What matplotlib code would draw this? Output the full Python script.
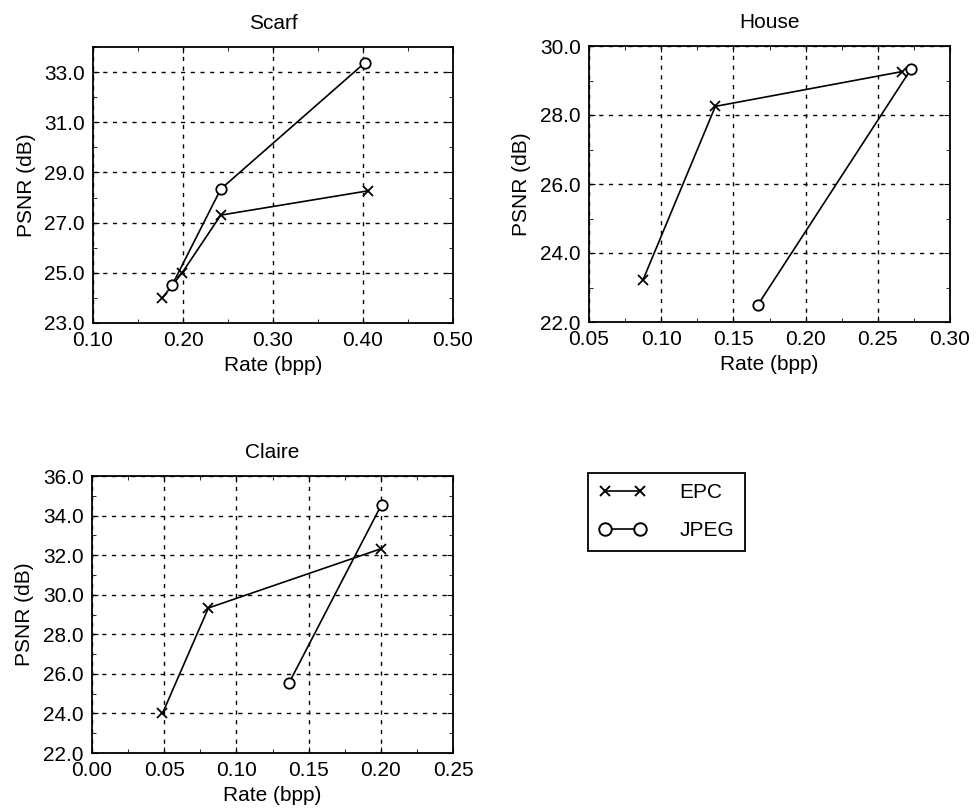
import matplotlib.pyplot as plt
from matplotlib.ticker import MultipleLocator, FormatStrFormatter
from matplotlib.lines import Line2D

plt.rcParams['font.family'] = ['Liberation Sans', 'DejaVu Sans']
plt.rcParams['font.size'] = 15

# Scarf
scarf_epc_rate = [0.177, 0.199, 0.242, 0.406]
scarf_epc_psnr = [24.0, 25.0, 27.3, 28.27]
scarf_jpeg_rate = [0.188, 0.242, 0.402]
scarf_jpeg_psnr = [24.52, 28.34, 33.37]

# House
house_epc_rate = [0.0875, 0.1375, 0.267]
house_epc_psnr = [23.23, 28.25, 29.26]
house_jpeg_rate = [0.167, 0.273]
house_jpeg_psnr = [22.5, 29.33]

# Claire
claire_epc_rate = [0.0488, 0.0806, 0.200]
claire_epc_psnr = [24.0, 29.33, 32.32]
claire_jpeg_rate = [0.1366, 0.2005]
claire_jpeg_psnr = [25.56, 34.55]

W, H = 977, 811
fig = plt.figure(figsize=(W / 100, H / 100), dpi=100)


def make_axes(left, top, right, bottom):
    return fig.add_axes([left / W, 1 - bottom / H, (right - left) / W, (bottom - top) / H])


def style(ax, title, xlim, xstep, ylim, ystep):
    ax.set_xlim(*xlim)
    ax.set_ylim(*ylim)
    ax.xaxis.set_major_locator(MultipleLocator(xstep))
    ax.yaxis.set_major_locator(MultipleLocator(ystep))
    ax.xaxis.set_minor_locator(MultipleLocator(xstep / 2))
    ax.yaxis.set_minor_locator(MultipleLocator(ystep / 2))
    ax.xaxis.set_major_formatter(FormatStrFormatter('%.2f'))
    ax.yaxis.set_major_formatter(FormatStrFormatter('%.1f'))
    ax.tick_params(which='both', direction='in', top=True, right=True, labelsize=15, pad=6)
    ax.tick_params(which='major', length=4)
    ax.tick_params(which='minor', length=3)
    ax.grid(True, which='major', color='black', linestyle=(0, (3, 4)), linewidth=1.0)
    ax.set_title(title, fontsize=15, pad=13)
    ax.set_xlabel('Rate (bpp)', fontsize=15, labelpad=4)
    ax.set_ylabel('PSNR (dB)', fontsize=15, labelpad=6)
    for s in ax.spines.values():
        s.set_linewidth(1.3)


def draw(ax, er, ep, jr, jp):
    ax.plot(er, ep, color='black', lw=1.2, marker='x', ms=6.5, mew=1.3)
    ax.plot(jr, jp, color='black', lw=1.2, marker='o', ms=7.5, mfc='white', mew=1.3)


ax1 = make_axes(93, 47, 453, 323)
draw(ax1, scarf_epc_rate, scarf_epc_psnr, scarf_jpeg_rate, scarf_jpeg_psnr)
style(ax1, 'Scarf', (0.10, 0.50), 0.10, (23.0, 34.0), 2.0)
ax1.set_yticks([23.0, 25.0, 27.0, 29.0, 31.0, 33.0])
ax1.yaxis.set_minor_locator(MultipleLocator(1.0))

ax2 = make_axes(589, 46, 950, 322)
draw(ax2, house_epc_rate, house_epc_psnr, house_jpeg_rate, house_jpeg_psnr)
style(ax2, 'House', (0.05, 0.30), 0.05, (22.0, 30.0), 2.0)

ax3 = make_axes(92, 476, 453, 753)
draw(ax3, claire_epc_rate, claire_epc_psnr, claire_jpeg_rate, claire_jpeg_psnr)
style(ax3, 'Claire', (0.00, 0.25), 0.05, (22.0, 36.0), 2.0)

handles = [
    Line2D([], [], color='black', lw=1.2, marker='x', ms=7, mew=1.4),
    Line2D([], [], color='black', lw=1.2, marker='o', ms=9, mfc='white', mew=1.4),
]
fig.legend(handles, ['EPC', 'JPEG'], loc='upper left', numpoints=2,
           bbox_to_anchor=(588 / W, 1 - 473 / H), frameon=True, fancybox=False,
           edgecolor='black', fontsize=15, handlelength=2.3, framealpha=1,
           borderpad=0.5, labelspacing=0.9, handletextpad=1.6, borderaxespad=0)
fig.legends[0].get_frame().set_linewidth(1.3)

fig.savefig('out.png', dpi=100)
